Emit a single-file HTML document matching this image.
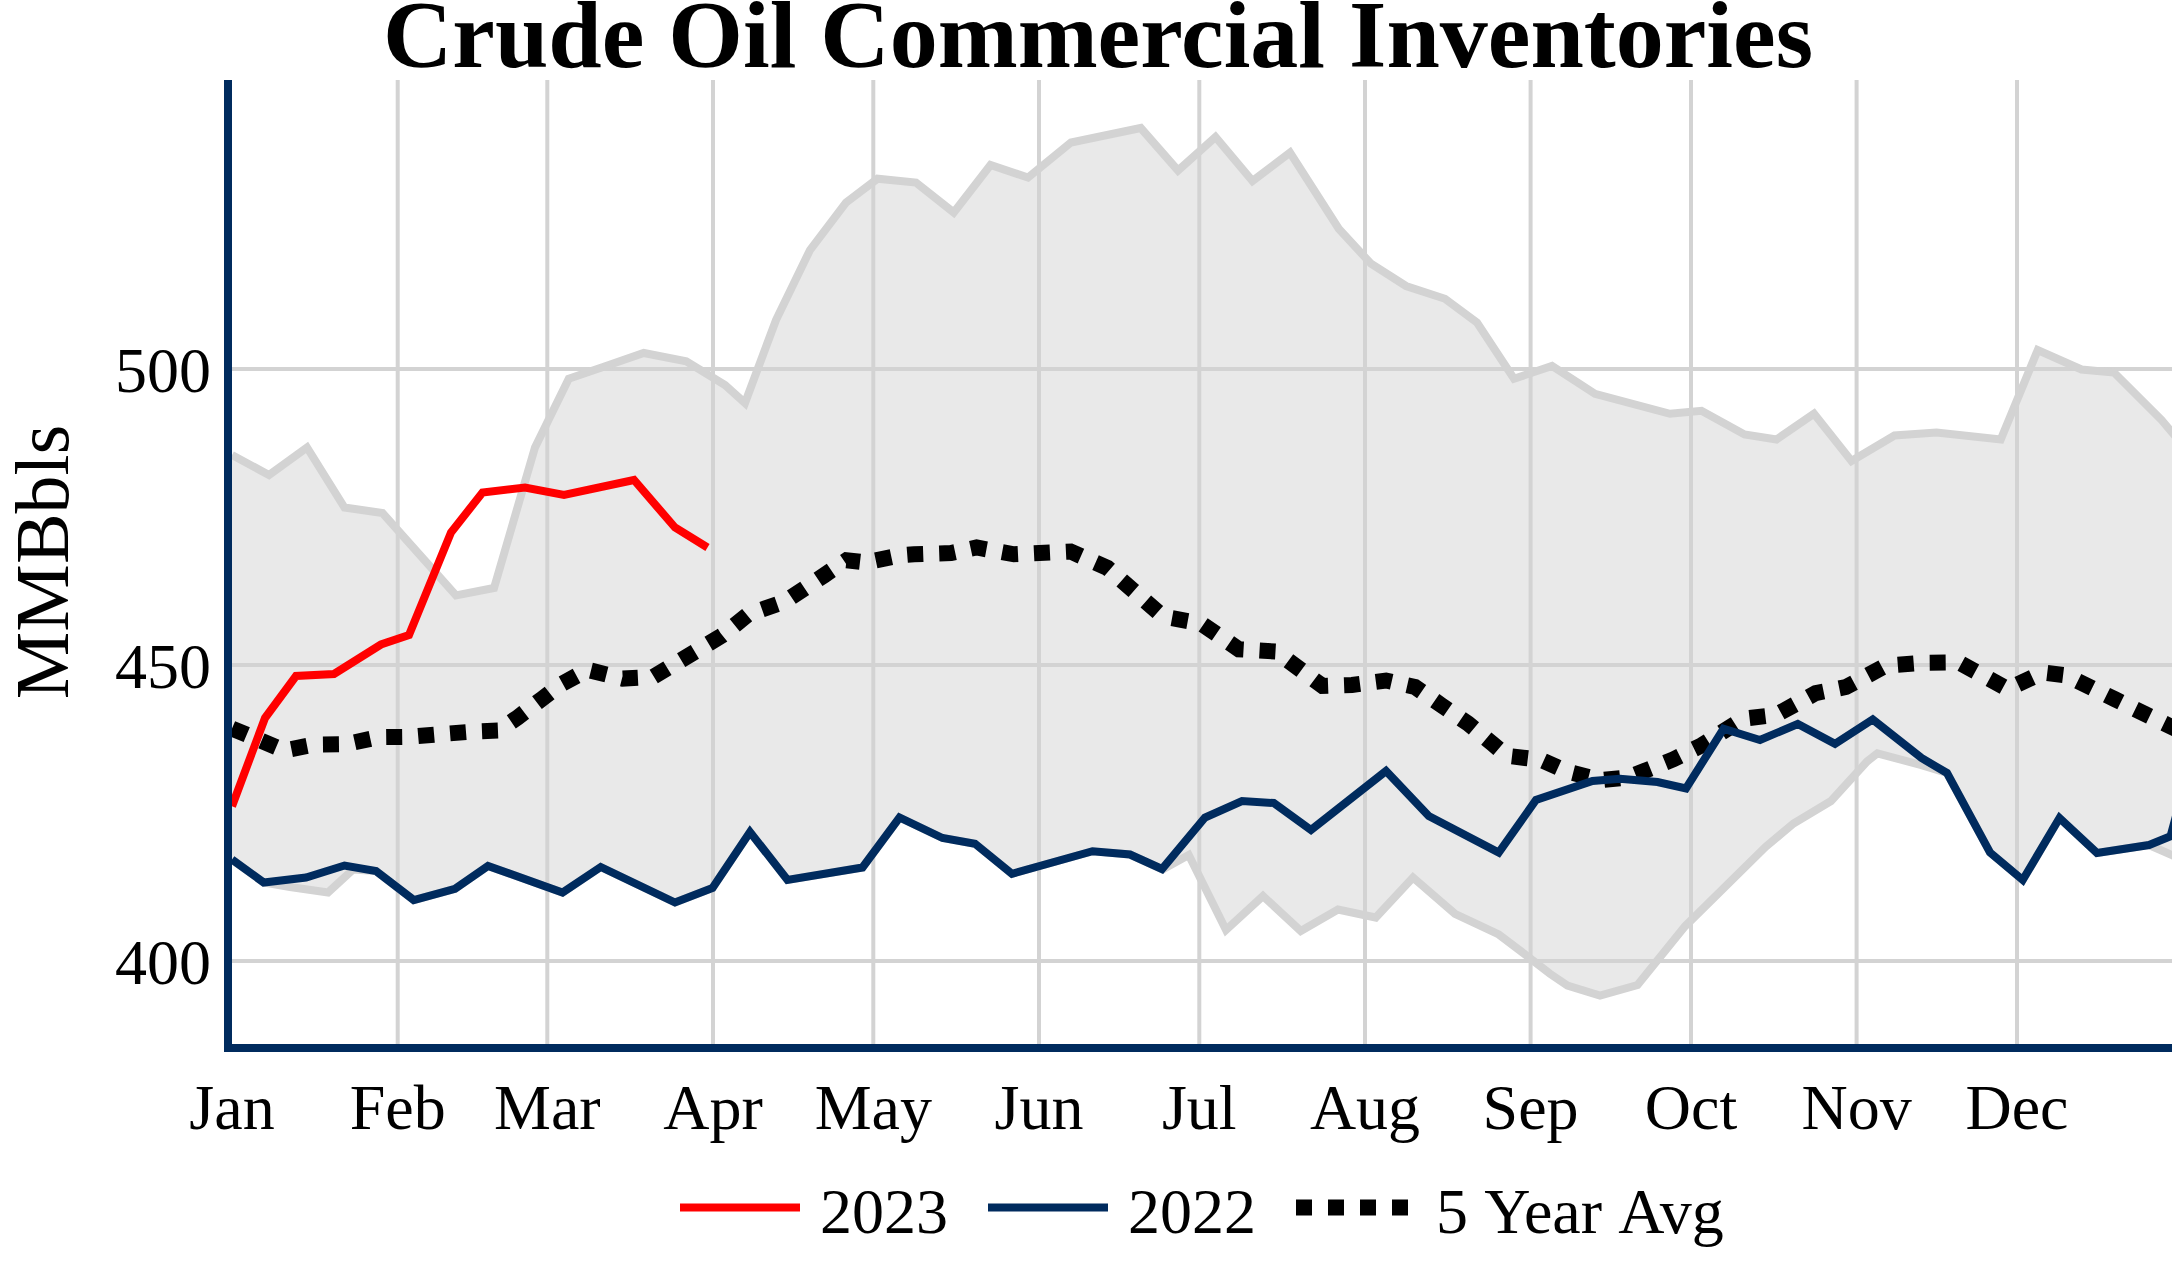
<!DOCTYPE html>
<html lang="en"><head><meta charset="utf-8"><title>Crude Oil Commercial Inventories</title>
<style>
html,body{margin:0;padding:0;background:#fff;}
body{width:2172px;height:1276px;overflow:hidden;}
svg{display:block;}
text{font-family:"Liberation Serif",serif;fill:#000;}
</style></head><body>
<svg width="2172" height="1276" viewBox="0 0 2172 1276">
<rect width="2172" height="1276" fill="#fff"/>
<defs><clipPath id="plot"><rect x="232" y="80" width="1940" height="964"/></clipPath></defs>

<g stroke="#d3d3d3" stroke-width="4" fill="none">
<line x1="397.7" y1="80" x2="397.7" y2="1048"/>
<line x1="547.3" y1="80" x2="547.3" y2="1048"/>
<line x1="713.0" y1="80" x2="713.0" y2="1048"/>
<line x1="873.3" y1="80" x2="873.3" y2="1048"/>
<line x1="1039.0" y1="80" x2="1039.0" y2="1048"/>
<line x1="1199.3" y1="80" x2="1199.3" y2="1048"/>
<line x1="1365.0" y1="80" x2="1365.0" y2="1048"/>
<line x1="1530.6" y1="80" x2="1530.6" y2="1048"/>
<line x1="1691.0" y1="80" x2="1691.0" y2="1048"/>
<line x1="1856.6" y1="80" x2="1856.6" y2="1048"/>
<line x1="2017.0" y1="80" x2="2017.0" y2="1048"/>
<line x1="232" y1="369" x2="2172" y2="369"/>
<line x1="232" y1="665" x2="2172" y2="665"/>
<line x1="232" y1="961" x2="2172" y2="961"/>
</g>
<g clip-path="url(#plot)">
<path d="M232 455 L269 475 L307 447.5 L344.5 507.5 L382.5 513 L419 554 L456 595.5 L494 588 L535 447.5 L568.75 378.75 L606 366 L643.75 353 L686.25 361.25 L725 385 L745 403 L776 320 L810 250 L846 202.5 L877.5 178.75 L916 182.5 L953.75 212.5 L990.5 165 L1028 177.5 L1071 142.5 L1140.75 128 L1178 170.5 L1215.5 137 L1252.5 181 L1290 152.5 L1338.75 228.75 L1371 263.75 L1406 286 L1445 298.75 L1477 322.5 L1514 378.75 L1552 366 L1595 393.75 L1670 413.75 L1701.5 410.75 L1744.5 434.5 L1776.5 439.5 L1814 413.75 L1851.5 461 L1894.5 435.5 L1936.5 432.5 L2000.75 439.5 L2037.75 350 L2081.5 369.5 L2114 372.5 L2161.5 420 L2176 437 L2176 857 L2149 845 L2097 853 L2059.5 818 L2022.75 880 L1990 852.5 L1947 773 L1921.5 765.2 L1877.4 753.3 L1867 761.5 L1831 801 L1793.5 823.5 L1765.5 847 L1685 926.3 L1637.5 985 L1600 995.5 L1567.5 985.5 L1550 973.75 L1524.5 954 L1498.75 934.5 L1455 913.75 L1413 877.5 L1375.75 917.5 L1338 909.5 L1300.75 931 L1263 896 L1226 930 L1188.75 855 L1162.5 869.5 L1130 854.5 L1092.5 851.25 L1012 873.75 L975 843.75 L942.5 838 L899.5 817.5 L862.5 867.5 L787.5 880 L750 832 L712.5 888 L675 902.5 L600.75 867 L562.5 892.5 L488 866 L455 888.75 L413.75 900 L376 871 L353 869.5 L328 892.5 L290 887 L263.75 882.5 L232 859.5Z" fill="#d3d3d3" fill-opacity="0.5" stroke="none"/>
<path d="M232 455 L269 475 L307 447.5 L344.5 507.5 L382.5 513 L419 554 L456 595.5 L494 588 L535 447.5 L568.75 378.75 L606 366 L643.75 353 L686.25 361.25 L725 385 L745 403 L776 320 L810 250 L846 202.5 L877.5 178.75 L916 182.5 L953.75 212.5 L990.5 165 L1028 177.5 L1071 142.5 L1140.75 128 L1178 170.5 L1215.5 137 L1252.5 181 L1290 152.5 L1338.75 228.75 L1371 263.75 L1406 286 L1445 298.75 L1477 322.5 L1514 378.75 L1552 366 L1595 393.75 L1670 413.75 L1701.5 410.75 L1744.5 434.5 L1776.5 439.5 L1814 413.75 L1851.5 461 L1894.5 435.5 L1936.5 432.5 L2000.75 439.5 L2037.75 350 L2081.5 369.5 L2114 372.5 L2161.5 420 L2176 437" fill="none" stroke="#d3d3d3" stroke-width="8" stroke-linejoin="miter"/>
<path d="M232 859.5 L263.75 882.5 L290 887 L328 892.5 L353 869.5 L376 871 L413.75 900 L455 888.75 L488 866 L562.5 892.5 L600.75 867 L675 902.5 L712.5 888 L750 832 L787.5 880 L862.5 867.5 L899.5 817.5 L942.5 838 L975 843.75 L1012 873.75 L1092.5 851.25 L1130 854.5 L1162.5 869.5 L1188.75 855 L1226 930 L1263 896 L1300.75 931 L1338 909.5 L1375.75 917.5 L1413 877.5 L1455 913.75 L1498.75 934.5 L1524.5 954 L1550 973.75 L1567.5 985.5 L1600 995.5 L1637.5 985 L1685 926.3 L1765.5 847 L1793.5 823.5 L1831 801 L1867 761.5 L1877.4 753.3 L1921.5 765.2 L1947 773 L1990 852.5 L2022.75 880 L2059.5 818 L2097 853 L2149 845 L2176 857" fill="none" stroke="#d3d3d3" stroke-width="8" stroke-linejoin="miter"/>
<path d="M232 728.5 L284 750.5 L314 744.6 L346 744.2 L378 737.2 L410 736.8 L442 734 L474 731.5 L498.5 730.5 L517.6 717.5 L542.5 698.5 L559.3 685.4 L587.6 669.8 L622.7 678.6 L652.7 677.1 L722 635.5 L748.2 614.3 L784.7 601.6 L823.9 575.5 L846.5 560.2 L866 562.5 L899 555.5 L914 554.3 L951 553 L976.6 547.5 L1014 554.3 L1070.7 551.5 L1107.4 567.9 L1163 616.5 L1201.2 623.5 L1238.9 649.3 L1276 651.5 L1322.5 686 L1352 684.9 L1386 680.5 L1415 687 L1441 705 L1467.9 723.4 L1492.7 743.9 L1506.7 755.8 L1541.2 759.9 L1566.7 771.4 L1601.3 780.1 L1628.6 777.3 L1673.4 759.3 L1701.6 745.3 L1743.1 718.8 L1776 714.9 L1815.7 693.1 L1846 687 L1885.5 665.8 L1925 662.7 L1958.7 662.4 L2007.7 689 L2043 672.5 L2066 675.3 L2115 699.3 L2144 713.5 L2176 729" fill="none" stroke="#000" stroke-width="16" stroke-dasharray="16 16" stroke-dashoffset="0"/>
<path d="M232 859.5 L263.75 882.5 L306 877.5 L344.5 865.5 L376 871 L413.75 900 L455 888.75 L488 866 L562.5 892.5 L600.75 867 L675 902.5 L712.5 888 L750 832 L787.5 880 L862.5 867.5 L899.5 817.5 L942.5 838 L975 843.75 L1012 873.75 L1092.5 851.25 L1130 854.5 L1162 869 L1205 817.5 L1242 801 L1273.75 803 L1311 830 L1386 771 L1428.75 816 L1498.75 852.5 L1536 800 L1592.5 781 L1620 778.75 L1657.5 782 L1686 788.5 L1723.5 728.75 L1760 740 L1797.75 724 L1835 743.75 L1872.75 719.5 L1921.5 758 L1947 773 L1990 852.5 L2022.75 880 L2059.5 818 L2097 853 L2149 845 L2170.5 836.3 L2176 816" fill="none" stroke="#002b5e" stroke-width="8" stroke-linejoin="miter"/>
<path d="M232 806.3 L265 718 L296 676 L334 674 L381 644.5 L409 635 L451 532.5 L482.5 492.5 L525 487.5 L564 495 L634 480 L675 527.5 L707.5 547.5" fill="none" stroke="#ff0000" stroke-width="8" stroke-linejoin="miter"/>
</g>
<rect x="224" y="80" width="8" height="972" fill="#002b5e"/>
<rect x="224" y="1044" width="1948" height="8" fill="#002b5e"/>
<text x="1098" y="67" font-size="96" font-weight="bold" text-anchor="middle">Crude Oil Commercial Inventories</text>
<text x="211" y="392" font-size="64" text-anchor="end">500</text>
<text x="211" y="688" font-size="64" text-anchor="end">450</text>
<text x="211" y="984" font-size="64" text-anchor="end">400</text>
<text transform="translate(68,562) rotate(-90)" font-size="76" text-anchor="middle">MMBbls</text>
<text x="232" y="1129" font-size="64" text-anchor="middle">Jan</text>
<text x="397.7" y="1129" font-size="64" text-anchor="middle">Feb</text>
<text x="547.3" y="1129" font-size="64" text-anchor="middle">Mar</text>
<text x="713.0" y="1129" font-size="64" text-anchor="middle">Apr</text>
<text x="873.3" y="1129" font-size="64" text-anchor="middle">May</text>
<text x="1039.0" y="1129" font-size="64" text-anchor="middle">Jun</text>
<text x="1199.3" y="1129" font-size="64" text-anchor="middle">Jul</text>
<text x="1365.0" y="1129" font-size="64" text-anchor="middle">Aug</text>
<text x="1530.6" y="1129" font-size="64" text-anchor="middle">Sep</text>
<text x="1691.0" y="1129" font-size="64" text-anchor="middle">Oct</text>
<text x="1856.6" y="1129" font-size="64" text-anchor="middle">Nov</text>
<text x="2017.0" y="1129" font-size="64" text-anchor="middle">Dec</text>
<line x1="680" y1="1207.5" x2="800" y2="1207.5" stroke="#ff0000" stroke-width="8"/>
<text x="820" y="1232.5" font-size="64">2023</text>
<line x1="988" y1="1207.5" x2="1108" y2="1207.5" stroke="#002b5e" stroke-width="8"/>
<text x="1128" y="1232.5" font-size="64">2022</text>
<line x1="1296" y1="1207.5" x2="1416" y2="1207.5" stroke="#000" stroke-width="16" stroke-dasharray="16 16"/>
<text x="1436" y="1232.5" font-size="64">5 <tspan dx="2.5">Year</tspan> <tspan dx="3.8">Avg</tspan></text>
</svg></body></html>
